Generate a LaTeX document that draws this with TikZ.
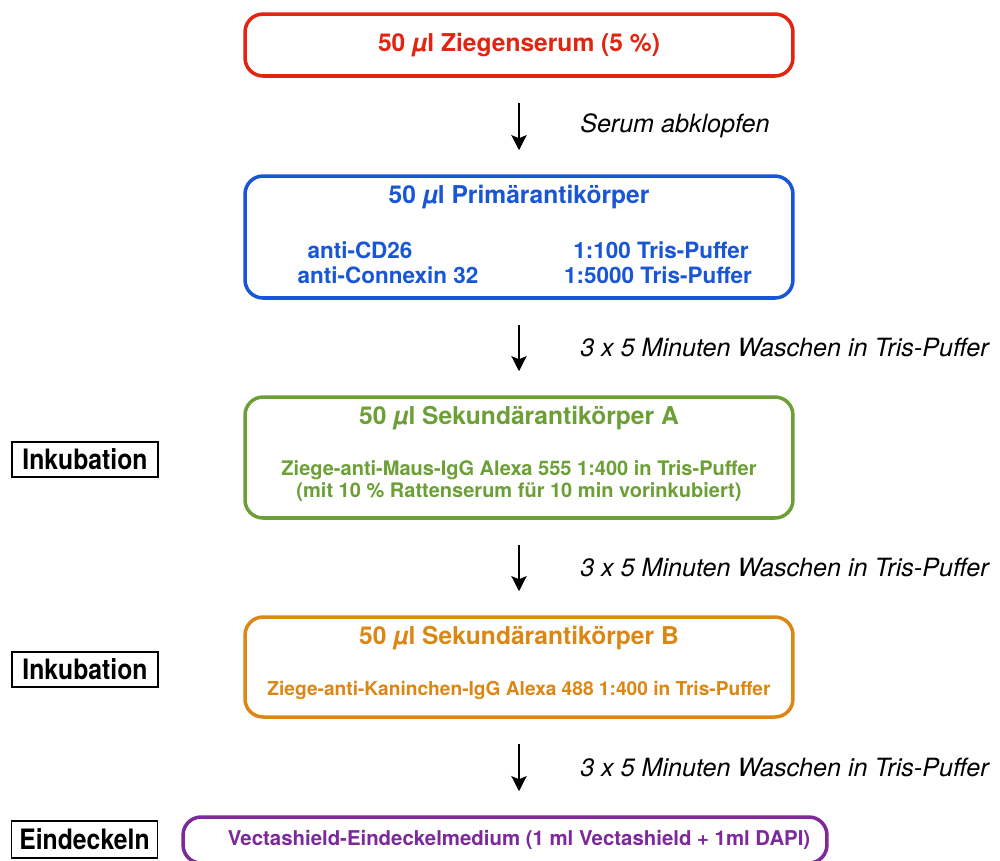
\documentclass[tikz,border=0pt]{standalone}
\usepackage{fontspec}
\setmainfont{TeX Gyre Heros}
\newfontfamily\narrowfont[FakeStretch=0.88]{TeX Gyre Heros}
\usetikzlibrary{arrows.meta}
\definecolor{serumred}{RGB}{226,36,16}
\definecolor{primblue}{RGB}{25,85,215}
\definecolor{sekgreen}{RGB}{108,160,55}
\definecolor{sekorange}{RGB}{220,135,20}
\definecolor{deckpurple}{RGB}{125,40,155}

\begin{document}
\begin{tikzpicture}[x=0.02cm,y=-0.02cm,>={Stealth[length=0.3cm,width=0.3cm,inset=0.06cm]},
  stepbox/.style={draw, line width=2pt, rounded corners=0.36cm, minimum width=10.96cm, fill=white},
  titletext/.style={font=\bfseries\fontsize{14}{16}\selectfont, inner sep=0pt},
  infotext/.style={font=\bfseries\fontsize{11.4}{13.5}\selectfont, inner sep=0pt},
  rowtext/.style={font=\bfseries\fontsize{12.8}{15}\selectfont, inner sep=0pt, text=primblue},
  phasebox/.style={draw, line width=0.9pt, minimum width=2.92cm, minimum height=0.7cm, inner sep=0pt,
    font=\narrowfont\bfseries\fontsize{16}{18}\selectfont},
  steparrow/.style={->, line width=1.6pt, shorten <=0.5cm, shorten >=0.48cm},
  steplabel/.style={anchor=west, xshift=1.08cm, font=\itshape\fontsize{14.3}{16}\selectfont}]

  \useasboundingbox (0,0) rectangle (1000,860);

  % Ziegenserum
  \node (serum) [stepbox, draw=serumred, minimum height=1.24cm] at (519,45) {};
  \node (serumtitle) [titletext, text=serumred] at (519,45) {50 \textit{µ}l Ziegenserum (5 \%)};

  % Primaerantikoerper
  \node (prim) [stepbox, draw=primblue, minimum height=2.44cm] at (519,237) {};
  \node (primtitle) [titletext, text=primblue] at (519,197) {50 \textit{µ}l Primärantikörper};
  \node (cdname) [rowtext] at (360,250) {anti-CD26};
  \node (cxname) [rowtext] at (388,275) {anti-Connexin 32};
  \node (cddil) [rowtext] at (661,250) {1:100 Tris-Puffer};
  \node (cxdil) [rowtext] at (658,275) {1:5000 Tris-Puffer};

  % Sekundaerantikoerper A
  \node (seka) [stepbox, draw=sekgreen, minimum height=2.42cm] at (519,457.5) {};
  \node (sekatitle) [titletext, text=sekgreen] at (519,418) {50 \textit{µ}l Sekundärantikörper A};
  \node (sekaline1) [infotext, text=sekgreen] at (519,470) {Ziege-anti-Maus-IgG Alexa 555 1:400 in Tris-Puffer};
  \node (sekaline2) [infotext, text=sekgreen] at (519,492) {(mit 10 \% Rattenserum für 10 min vorinkubiert)};

  % Sekundaerantikoerper B
  \node (sekb) [stepbox, draw=sekorange, minimum height=2cm] at (519,667) {};
  \node (sekbtitle) [titletext, text=sekorange] at (519,638) {50 \textit{µ}l Sekundärantikörper B};
  \node (sekbline) [infotext, text=sekorange, font=\bfseries\fontsize{10.9}{13}\selectfont] at (519,690) {Ziege-anti-Kaninchen-IgG Alexa 488 1:400 in Tris-Puffer};

  % Eindeckeln
  \node (deck) [stepbox, draw=deckpurple, minimum width=12.88cm, minimum height=0.92cm] at (505,840) {};
  \node (decktext) [infotext, text=deckpurple, font=\bfseries\fontsize{11.6}{13.5}\selectfont] at (519,840) {Vectashield-Eindeckelmedium (1 ml Vectashield + 1ml DAPI)};

  % Phasen
  \node (inka) [phasebox] at (85,459.5) {Inkubation};
  \node (inkb) [phasebox] at (85,669.5) {Inkubation};
  \node (eind) [phasebox, minimum height=0.74cm] at (84.5,839.5) {Eindeckeln};

  % Pfeile
  \draw[steparrow] (serum.south) -- (prim.north) node[midway, steplabel] (wash0) {Serum abklopfen};
  \draw[steparrow] (prim.south) -- (seka.north) node[midway, steplabel] (wash1) {3 x 5 Minuten Waschen in Tris-Puffer};
  \draw[steparrow] (seka.south) -- (sekb.north) node[midway, steplabel] (wash2) {3 x 5 Minuten Waschen in Tris-Puffer};
  \draw[steparrow] (sekb.south) -- (deck.north -| sekb.south) node[midway, steplabel] (wash3) {3 x 5 Minuten Waschen in Tris-Puffer};
\end{tikzpicture}
\end{document}
